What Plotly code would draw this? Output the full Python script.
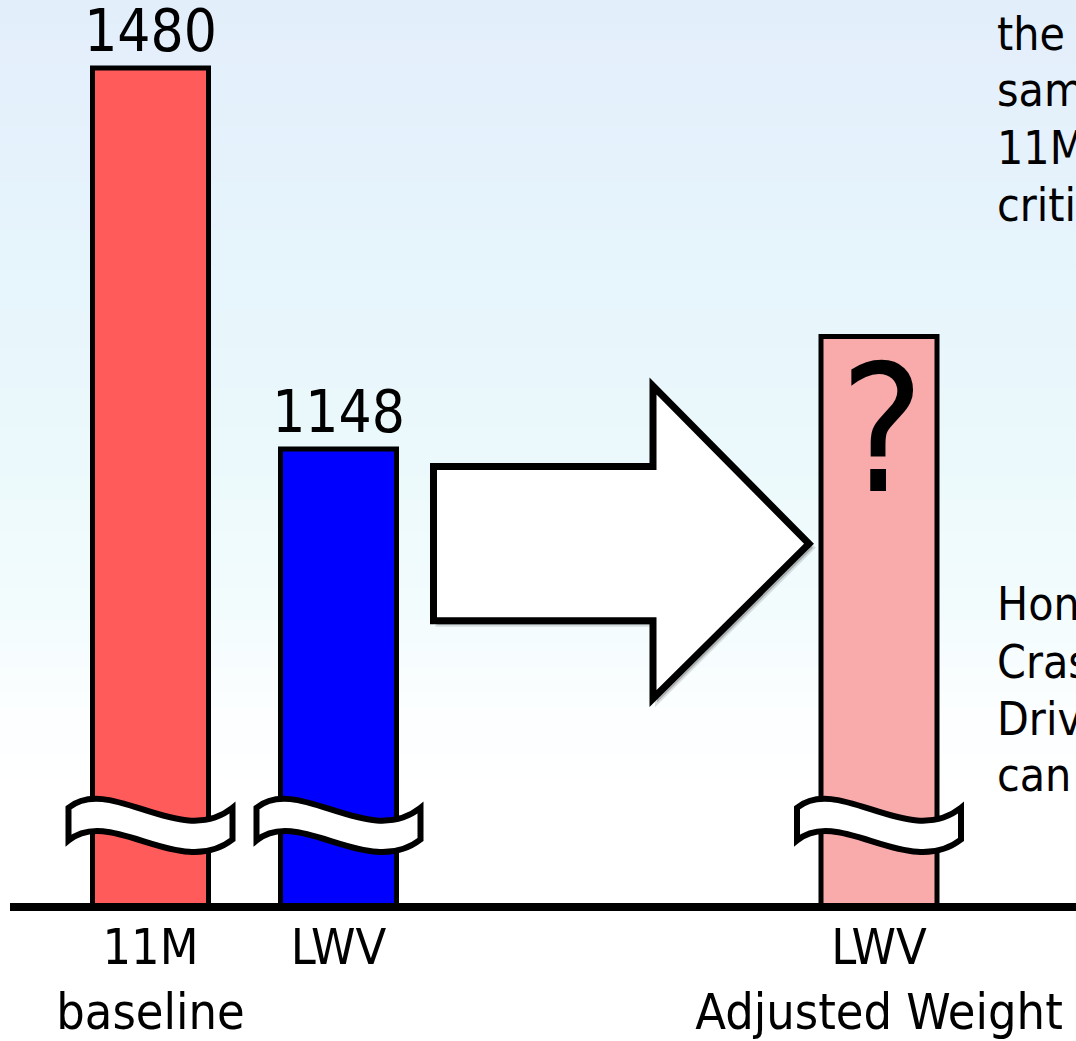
import plotly.graph_objects as go

# ---------------- data ----------------
categories = ["11M<br>baseline", "LWV", "LWV<br>Adjusted Weight"]
values = [1480, 1148, 1246]          # third bar is the unknown ("?") estimate
value_labels = ["1480", "1148", "?"]
bar_colors = ["#FF5B5B", "#0000FF", "#F9AAAA"]
side_text_top = ["the", "same", "11M", "critical"]
side_text_bottom = ["Honda", "Crash", "Driver", "can"]

# ---------------- layout constants ----------------
W, H = 1076, 1041
BAR_POS = [150.5, 338.5, 879]      # horizontal positions (pixel-like x units)
BASE_PX = 910                       # plot-area bottom pixel row
PX_PER_UNIT = 1.1566
TOP_REF_PX = 68.5                   # pixel row of the tallest bar's top
Y_TOP = values[0] + TOP_REF_PX / PX_PER_UNIT
Y_BOT = values[0] - (BASE_PX - TOP_REF_PX) / PX_PER_UNIT
FONT = "DejaVu Sans Condensed, DejaVu Sans, sans-serif"


def px(x, y):
    """pixel -> paper coords"""
    return x / W, 1 - y / H


def path(points_cmds):
    out = []
    for cmd, pts in points_cmds:
        if cmd == "L":
            for x, y in pts:
                out.append(f"L{px(x, y)[0]:.5f},{px(x, y)[1]:.5f}")
        else:
            coords = " ".join(f"{px(x, y)[0]:.5f},{px(x, y)[1]:.5f}" for x, y in pts)
            out.append(f"{cmd}{coords}")
    return " ".join(out) + " Z"


fig = go.Figure()

labels_on_bar = [t if t != "?" else "" for t in value_labels]
fig.add_trace(go.Bar(
    x=BAR_POS, y=values, width=116,
    marker=dict(color=bar_colors, line=dict(color="black", width=5)),
    text=labels_on_bar,
    textposition="outside",
    textfont=dict(family=FONT, color="black", size=58),
    constraintext="none",
    cliponaxis=False,
    hoverinfo="skip",
))

shapes = []
# background gradient
stops = [(0, (227, 238, 251)), (250, (230, 244, 252)), (450, (235, 249, 252)),
         (620, (243, 252, 253)), (720, (252, 254, 255)), (800, (255, 255, 255)), (H, (255, 255, 255))]
step = 8
for y0 in range(0, H, step):
    yc = y0 + step / 2
    for (a, ca), (b, cb) in zip(stops[:-1], stops[1:]):
        if a <= yc <= b:
            t = (yc - a) / (b - a)
            c = tuple(round(ca[i] + (cb[i] - ca[i]) * t) for i in range(3))
            break
    shapes.append(dict(type="rect", xref="paper", yref="paper", layer="below",
                       x0=0, x1=1, y0=1 - y0 / H, y1=1 - (y0 + step + 1) / H,
                       fillcolor=f"rgb{c}", line=dict(width=0)))

# arrow shadow + arrow
arrow = [(433.5, 470), (653, 470), (653, 389), (809, 548), (653, 704), (653, 625.5), (433.5, 625.5)]
shadow = [(x + 4, y + 4) for x, y in arrow]
shapes.append(dict(type="path", xref="paper", yref="paper",
                   path=path([("M", [shadow[0]]), ("L", shadow[1:])]),
                   fillcolor="rgba(0,0,0,0.22)", line=dict(width=4, color="rgba(0,0,0,0.12)")))
shapes.append(dict(type="path", xref="paper", yref="paper",
                   path=path([("M", [arrow[0]]), ("L", arrow[1:])]),
                   fillcolor="white", line=dict(width=7, color="black")))

# axis-break symbols
for cx in BAR_POS:
    p = [("M", [(cx - 82, 814)]),
         ("C", [(cx - 40, 780), (cx + 30, 856), (cx + 82, 814)]),
         ("L", [(cx + 82, 846)]),
         ("C", [(cx + 30, 887), (cx - 40, 812), (cx - 82, 847)])]
    shapes.append(dict(type="path", xref="paper", yref="paper", path=path(p),
                       fillcolor="white", line=dict(width=6, color="black")))

annotations = []
# "?" on the unknown bar
annotations.append(dict(xref="x", yref="y", x=BAR_POS[2] + 3, y=values[2], xanchor="center",
                        yanchor="top", yshift=11, text=value_labels[2], showarrow=False,
                        font=dict(family=FONT, size=176, color="black")))
SIDE = 46
for lines, baselines in ((side_text_top, [50, 107, 165, 222]),
                         (side_text_bottom, [625, 683, 740, 797])):
    for txt, b in zip(lines, baselines):
        annotations.append(dict(xref="paper", yref="paper", x=995 / W,
                                y=1 - (b - 0.346 * SIDE) / H, xanchor="left", yanchor="middle",
                                text=txt, showarrow=False,
                                font=dict(family=FONT, size=SIDE, color="black")))

fig.update_layout(
    width=W, height=H, margin=dict(l=0, r=0, t=0, b=0),
    paper_bgcolor="white", plot_bgcolor="rgba(0,0,0,0)",
    showlegend=False, shapes=shapes, annotations=annotations,
    xaxis=dict(domain=[10 / W, 1], range=[10, W], tickvals=BAR_POS, ticktext=categories,
               showgrid=False, zeroline=False, showline=True, linecolor="black", linewidth=8,
               ticks="", ticklabelstandoff=-7,
               tickfont=dict(family=FONT, size=50, color="black"),
               fixedrange=True),
    yaxis=dict(domain=[1 - BASE_PX / H, 1], range=[Y_BOT, Y_TOP], visible=False, fixedrange=True),
)

fig.write_html("out.html", config={"displayModeBar": False},
               post_script="document.body.style.margin='0';document.body.style.overflow='hidden';")
